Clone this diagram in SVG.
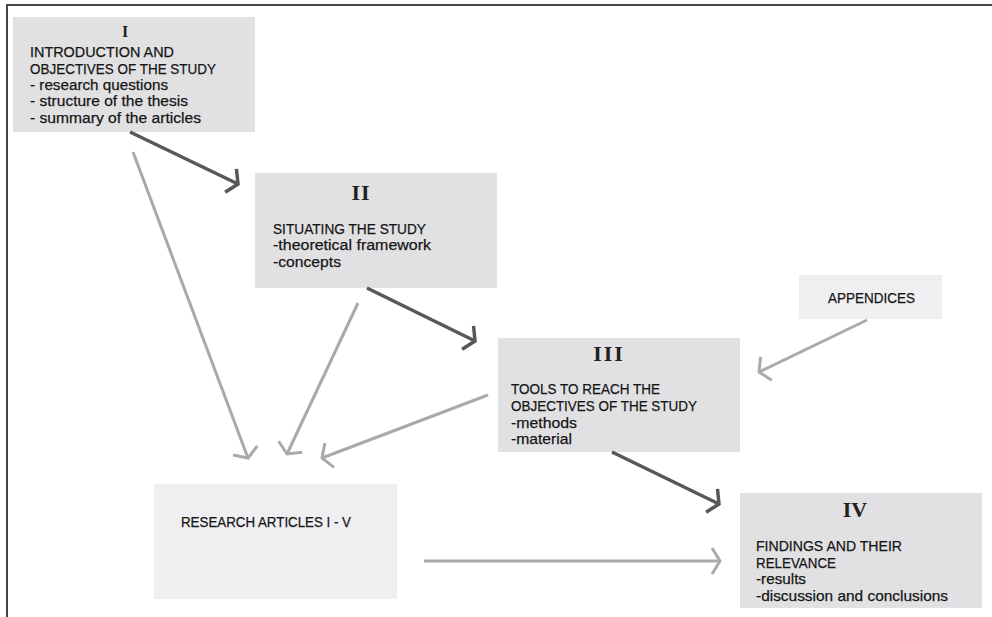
<svg xmlns="http://www.w3.org/2000/svg" width="992" height="617" viewBox="0 0 992 617">
<style>
.box{fill:#e1e1e3}
.lbox{fill:#efeff1}
.t{font-family:"Liberation Sans",Arial,sans-serif;font-size:15.5px;fill:#151515;stroke:#151515;stroke-width:0.25}
.num{font-family:"Liberation Serif","Times New Roman",serif;font-weight:bold;fill:#231f20;text-anchor:middle}
.dk{stroke:#58585a;stroke-width:3.5;fill:none}
.lt{stroke:#aaaaab;stroke-width:3;fill:none}
</style>
<defs>
<marker id="ad" markerUnits="userSpaceOnUse" viewBox="-16 -16 20 32" markerWidth="20" markerHeight="32" refX="0" refY="0" orient="auto" overflow="visible">
<path d="M-8,-13 L0,0 L-8,13" fill="none" stroke="#58585a" stroke-width="3.5"/>
</marker>
<marker id="al" markerUnits="userSpaceOnUse" viewBox="-16 -16 20 32" markerWidth="20" markerHeight="32" refX="0" refY="0" orient="auto" overflow="visible">
<path d="M-8,-13 L0,0 L-8,13" fill="none" stroke="#aaaaab" stroke-width="3"/>
</marker>
</defs>
<rect width="992" height="617" fill="#ffffff"/>
<path d="M7,617 L7,5 L992,5" fill="none" stroke="#444" stroke-width="2"/>

<g id="node-I">
<rect class="box" x="13" y="17" width="242" height="115"/>
<text class="num" x="125" y="37" font-size="16">I</text>
<text class="t" x="30" y="57" textLength="144" lengthAdjust="spacingAndGlyphs">INTRODUCTION AND</text>
<text class="t" x="30" y="74" textLength="186" lengthAdjust="spacingAndGlyphs">OBJECTIVES OF THE STUDY</text>
<text class="t" x="30" y="90" textLength="138" lengthAdjust="spacingAndGlyphs">- research questions</text>
<text class="t" x="30" y="106" textLength="158" lengthAdjust="spacingAndGlyphs">- structure of the thesis</text>
<text class="t" x="30" y="123" textLength="171" lengthAdjust="spacingAndGlyphs">- summary of the articles</text>
</g>

<g id="node-II">
<rect class="box" x="255" y="173" width="242" height="115"/>
<text class="num" x="361" y="200" font-size="22" letter-spacing="1">II</text>
<text class="t" x="273" y="234" textLength="153" lengthAdjust="spacingAndGlyphs">SITUATING THE STUDY</text>
<text class="t" x="273" y="250" textLength="158" lengthAdjust="spacingAndGlyphs">-theoretical framework</text>
<text class="t" x="273" y="267" textLength="68" lengthAdjust="spacingAndGlyphs">-concepts</text>
</g>

<g id="node-III">
<rect class="box" x="498" y="338" width="242" height="114"/>
<text class="num" x="609" y="361" font-size="22" letter-spacing="2">III</text>
<text class="t" x="511" y="394" textLength="149" lengthAdjust="spacingAndGlyphs">TOOLS TO REACH THE</text>
<text class="t" x="511" y="411" textLength="186" lengthAdjust="spacingAndGlyphs">OBJECTIVES OF THE STUDY</text>
<text class="t" x="511" y="428" textLength="66" lengthAdjust="spacingAndGlyphs">-methods</text>
<text class="t" x="511" y="444" textLength="61" lengthAdjust="spacingAndGlyphs">-material</text>
</g>

<g id="node-IV">
<rect class="box" x="740" y="493" width="242" height="115"/>
<text class="num" x="855" y="517" font-size="22">IV</text>
<text class="t" x="756" y="551" textLength="146" lengthAdjust="spacingAndGlyphs">FINDINGS AND THEIR</text>
<text class="t" x="756" y="568" textLength="80" lengthAdjust="spacingAndGlyphs">RELEVANCE</text>
<text class="t" x="756" y="584" textLength="50" lengthAdjust="spacingAndGlyphs">-results</text>
<text class="t" x="756" y="601" textLength="192" lengthAdjust="spacingAndGlyphs">-discussion and conclusions</text>
</g>

<g id="node-appendices">
<rect class="lbox" x="799" y="275" width="143" height="44"/>
<text class="t" x="828" y="303" textLength="87" lengthAdjust="spacingAndGlyphs">APPENDICES</text>
</g>

<g id="node-articles">
<rect class="lbox" x="154" y="484" width="243" height="115"/>
<text class="t" x="181" y="527" textLength="170" lengthAdjust="spacingAndGlyphs">RESEARCH ARTICLES I - V</text>
</g>

<g id="connectors">
<line class="dk" x1="130" y1="132" x2="238" y2="184" marker-end="url(#ad)"/>
<line class="dk" x1="367" y1="288" x2="475" y2="341" marker-end="url(#ad)"/>
<line class="dk" x1="612" y1="452" x2="719" y2="504" marker-end="url(#ad)"/>
<line class="lt" x1="133" y1="152" x2="248" y2="458" marker-end="url(#al)"/>
<line class="lt" x1="358" y1="303" x2="287" y2="454" marker-end="url(#al)"/>
<line class="lt" x1="488" y1="395" x2="322" y2="458" marker-end="url(#al)"/>
<line class="lt" x1="867" y1="320" x2="759" y2="372" marker-end="url(#al)"/>
<line class="lt" x1="424" y1="561" x2="720" y2="561" marker-end="url(#al)"/>
</g>
</svg>
